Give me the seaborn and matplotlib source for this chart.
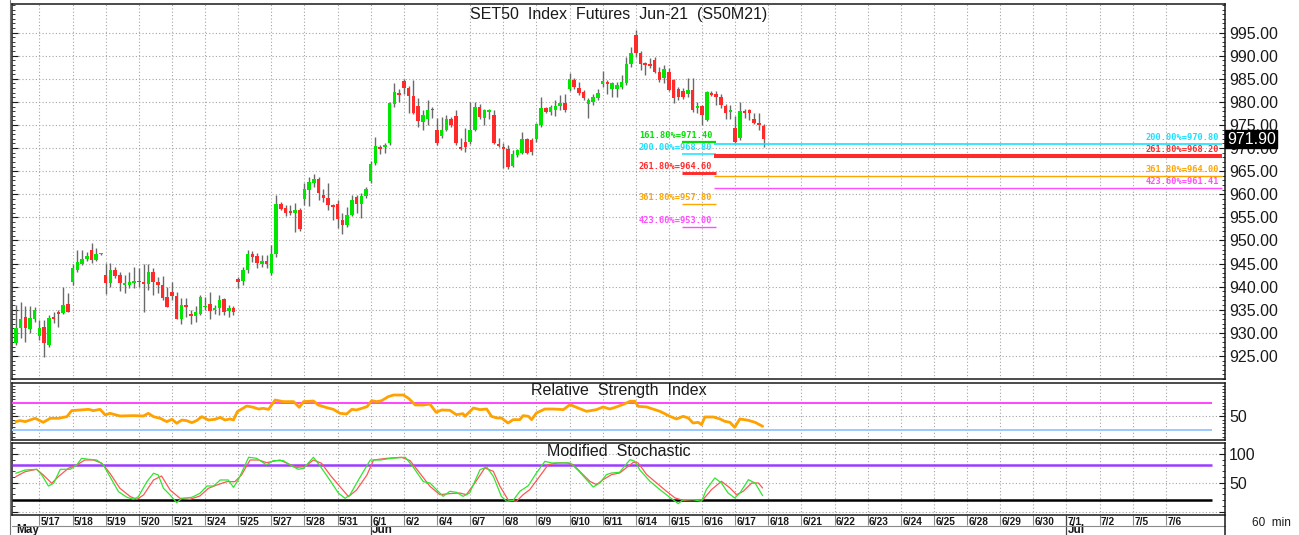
import numpy as np
import matplotlib
matplotlib.use("Agg")
import matplotlib.pyplot as plt
import matplotlib.transforms as mtransforms
from matplotlib.lines import Line2D
from matplotlib.ticker import MultipleLocator, FixedLocator
import seaborn as sns

# ---------------- data ----------------
title = "SET50  Index  Futures  Jun-21  (S50M21)"
day_labels = ["5/17", "5/18", "5/19", "5/20", "5/21", "5/24", "5/25", "5/27", "5/28", "5/31",
              "6/1", "6/2", "6/4", "6/7", "6/8", "6/9", "6/10", "6/11", "6/14", "6/15",
              "6/16", "6/17", "6/18", "6/21", "6/22", "6/23", "6/24", "6/25", "6/28", "6/29",
              "6/30", "7/1", "7/2", "7/5", "7/6"]
month_names = ["May", "Jun", "Jul"]
month_first_day = [None, "6/1", "7/1"]
bars_per_day = 7          # 60-minute bars per session
first_day_bar = 5         # bars of 5/14 shown before 5/17

opens = np.array([
    927.9, 931.0, 933.5, 930.8, 933.1, 929.3, 931.3, 927.4, 933.3, 934.3,
    934.2, 936.2, 941.1, 943.7, 945.0, 945.9, 947.9, 945.8, 947.0, 942.5,
    940.7, 943.6, 942.5, 940.3, 940.3, 940.7, 941.2, 940.9, 940.6, 943.2,
    941.1, 940.3, 937.8, 938.8, 938.0, 933.1, 936.0, 934.0, 933.7, 934.1,
    935.5, 936.2, 934.9, 935.3, 937.3, 934.8, 935.4, 941.6, 941.3, 943.7,
    947.1, 946.6, 945.0, 945.5, 943.0, 947.1, 958.0, 957.1, 956.4, 956.0,
    956.6, 958.9, 960.9, 962.5, 963.4, 959.8, 959.1, 957.7, 957.9, 954.4,
    953.3, 955.5, 959.5, 958.0, 959.6, 962.9, 966.7, 970.3, 970.2, 971.0,
    979.5, 982.0, 984.6, 983.1, 981.3, 979.1, 975.7, 976.2, 978.5, 973.9,
    972.6, 973.9, 976.4, 976.9, 970.3, 971.4, 971.4, 974.0, 978.8, 976.6,
    977.8, 977.1, 970.9, 970.3, 969.9, 966.1, 968.5, 969.0, 971.9, 971.7,
    971.9, 975.0, 978.6, 977.9, 978.2, 979.1, 979.8, 982.9, 984.7, 983.1,
    982.2, 979.5, 980.0, 980.8, 983.9, 984.4, 982.9, 982.7, 983.3, 984.1,
    988.3, 994.5, 990.6, 988.3, 988.3, 989.0, 986.5, 985.1, 986.5, 984.7,
    982.7, 982.3, 981.8, 982.6, 978.6, 979.1, 976.1, 982.0, 981.8, 981.1,
    979.1, 977.9, 974.3, 972.1, 978.1, 978.2, 976.4, 975.5, 974.8])
highs = np.array([
    936.0, 936.7, 935.8, 935.7, 935.6, 932.8, 932.8, 933.9, 934.6, 935.0,
    940.0, 938.6, 945.0, 947.9, 947.9, 947.6, 949.5, 948.3, 947.3, 945.2,
    945.2, 944.2, 943.2, 942.5, 943.2, 944.3, 944.1, 945.0, 945.0, 944.0,
    942.1, 942.3, 940.0, 941.1, 938.9, 937.5, 937.5, 934.9, 935.7, 938.2,
    937.8, 938.9, 936.0, 938.2, 937.5, 936.0, 935.7, 942.1, 944.3, 947.9,
    947.8, 947.2, 946.8, 946.8, 949.0, 959.8, 958.4, 957.7, 957.7, 958.2,
    957.0, 962.5, 963.8, 964.4, 963.7, 961.1, 962.5, 958.0, 958.7, 955.9,
    957.3, 959.8, 959.8, 960.3, 961.5, 967.2, 972.3, 970.6, 971.0, 980.0,
    984.0, 982.7, 984.9, 983.4, 984.7, 980.8, 978.2, 980.4, 978.8, 976.6,
    976.8, 977.1, 976.8, 978.2, 972.1, 974.3, 980.0, 980.0, 979.5, 978.4,
    978.4, 978.2, 972.1, 971.0, 970.6, 969.6, 969.9, 973.5, 972.1, 972.1,
    975.5, 981.1, 978.9, 979.3, 980.4, 981.5, 981.8, 986.3, 985.1, 984.4,
    982.6, 980.8, 981.7, 982.9, 986.7, 984.7, 984.4, 984.4, 985.8, 989.8,
    991.9, 995.5, 991.0, 988.7, 989.4, 989.8, 987.6, 988.0, 987.3, 985.0,
    983.3, 983.0, 985.1, 985.1, 980.0, 979.3, 982.4, 982.3, 982.4, 981.7,
    979.5, 979.3, 976.9, 980.0, 978.4, 978.4, 977.5, 977.5, 975.3])
lows = np.array([
    927.4, 928.8, 928.1, 929.9, 932.3, 928.4, 924.8, 927.0, 932.1, 931.3,
    934.0, 934.4, 940.3, 943.2, 944.7, 945.6, 945.2, 945.6, 946.8, 938.4,
    940.0, 941.8, 939.1, 938.6, 939.6, 939.6, 939.9, 934.6, 939.3, 938.2,
    938.6, 937.1, 935.5, 937.1, 932.9, 931.9, 933.5, 931.9, 932.4, 933.9,
    934.9, 933.1, 934.0, 933.9, 933.9, 933.4, 933.9, 939.6, 940.3, 942.9,
    945.4, 944.0, 944.3, 944.0, 942.5, 946.5, 956.6, 955.3, 955.5, 951.9,
    952.1, 957.7, 957.4, 961.6, 958.7, 958.4, 956.6, 954.4, 952.6, 951.4,
    953.0, 955.3, 955.9, 954.8, 959.1, 962.5, 966.3, 968.7, 969.0, 970.6,
    979.0, 980.0, 981.8, 977.6, 977.4, 974.6, 973.9, 975.0, 976.6, 970.6,
    972.1, 973.7, 974.6, 970.6, 969.6, 969.2, 970.9, 973.7, 976.2, 975.0,
    976.2, 970.9, 970.2, 965.6, 965.4, 965.8, 968.1, 968.7, 968.7, 968.5,
    971.4, 974.6, 977.5, 977.1, 976.9, 978.2, 977.9, 982.4, 982.9, 981.5,
    980.4, 976.6, 979.3, 980.4, 983.3, 981.8, 981.1, 981.1, 982.9, 983.6,
    987.6, 989.8, 986.9, 985.8, 987.3, 986.2, 984.4, 984.0, 982.4, 979.7,
    980.4, 980.6, 981.1, 977.9, 977.5, 975.0, 975.8, 981.3, 979.3, 978.6,
    976.4, 976.4, 971.0, 971.7, 976.6, 976.1, 975.3, 973.9, 970.3])
closes = np.array([
    931.1, 932.9, 931.0, 933.3, 934.9, 931.1, 927.7, 933.3, 933.0, 934.1,
    936.0, 934.6, 944.0, 945.3, 945.9, 946.6, 945.8, 947.1, 947.1, 940.7,
    943.7, 942.4, 940.7, 940.7, 940.9, 941.2, 940.9, 940.5, 943.2, 941.1,
    940.3, 937.5, 935.6, 938.0, 933.1, 936.0, 935.6, 933.7, 934.4, 937.8,
    935.9, 934.8, 935.3, 937.1, 934.6, 935.4, 934.4, 941.1, 943.7, 947.1,
    946.5, 945.2, 945.5, 944.8, 947.1, 958.0, 956.9, 956.0, 956.0, 956.6,
    952.4, 961.1, 962.7, 963.4, 960.2, 959.1, 957.7, 957.3, 954.6, 953.3,
    955.5, 958.7, 958.0, 959.6, 961.1, 966.5, 970.4, 969.9, 970.6, 979.7,
    982.1, 981.6, 983.1, 981.3, 977.5, 975.9, 977.1, 978.2, 978.2, 971.2,
    974.0, 976.4, 975.0, 971.0, 969.9, 970.3, 974.0, 978.8, 976.8, 978.2,
    978.2, 971.0, 970.4, 969.7, 966.0, 968.7, 969.5, 971.9, 969.0, 969.2,
    975.2, 978.6, 977.9, 978.9, 979.1, 979.8, 978.2, 984.9, 983.3, 982.0,
    980.8, 980.4, 981.1, 982.0, 984.6, 983.9, 984.0, 983.6, 984.4, 988.3,
    990.5, 990.5, 988.3, 988.0, 987.7, 986.5, 984.7, 987.2, 982.6, 980.8,
    981.1, 981.0, 982.6, 978.2, 979.1, 977.1, 982.2, 981.5, 981.1, 979.3,
    977.5, 978.1, 971.4, 978.1, 977.5, 977.5, 975.5, 975.0, 971.9])

price_ticks = [925, 930, 935, 940, 945, 950, 955, 960, 965, 970, 975, 980, 985, 990, 995]

# Fibonacci projections
fib_left_pct = ["161.80%", "200.00%", "261.80%", "361.80%", "423.60%"]
fib_left_val = [971.40, 968.80, 964.60, 957.80, 953.00]
fib_right_pct = ["200.00%", "261.80%", "361.80%", "423.60%"]
fib_right_val = [970.80, 968.20, 964.00, 961.41]

# Relative Strength Index (bar position, value)
rsi_bar = [0.0, 0.9, 2.0, 4.1, 5.8, 7.3, 9.0, 10.8, 11.8, 13.6,
           15.4, 16.4, 17.8, 18.9, 19.9, 22.0, 24.9, 27.0, 28.0, 29.1,
           30.5, 31.9, 33.0, 34.0, 35.1, 36.1, 37.2, 38.2, 39.3, 40.7,
           42.1, 43.2, 44.2, 45.3, 46.0, 46.8, 48.8, 50.2, 51.3, 52.3,
           53.4, 54.8, 56.5, 58.7, 59.9, 60.8, 62.9, 63.9, 65.7, 67.1,
           68.5, 69.9, 71.0, 72.0, 73.1, 74.2, 75.2, 76.3, 77.3, 78.7,
           79.8, 81.9, 83.0, 84.4, 86.1, 87.5, 88.8, 90.0, 91.7, 93.1,
           94.5, 94.9, 96.7, 98.1, 99.5, 100.5, 101.6, 102.6, 104.0, 105.1,
           106.5, 107.2, 108.3, 109.0, 110.0, 111.8, 113.6, 115.7, 117.1, 118.8,
           120.6, 122.7, 124.1, 125.5, 126.9, 128.7, 129.8, 130.8, 131.5, 133.3,
           135.0, 136.1, 137.1, 138.2, 139.6, 141.0, 142.1, 143.1, 144.2, 144.9,
           145.6, 147.4, 148.8, 149.8, 150.9, 151.9, 153.0, 154.8, 156.2, 157.8]
rsi_val = [42.2, 43.7, 42.2, 47.1, 41.2, 47.1, 47.1, 49.5, 58.3, 59.3,
           60.2, 58.3, 60.2, 52.0, 54.4, 50.5, 51.0, 50.5, 54.4, 49.5,
           47.1, 42.2, 45.6, 39.8, 44.6, 43.7, 40.7, 43.7, 49.5, 44.6,
           45.6, 48.5, 44.6, 46.1, 44.6, 56.8, 65.1, 63.2, 60.7, 61.7,
           60.2, 73.9, 71.5, 71.5, 63.2, 71.5, 72.4, 66.6, 62.7, 60.2,
           54.4, 53.4, 60.2, 59.3, 61.7, 64.1, 72.9, 71.5, 72.9, 78.8,
           81.2, 81.2, 76.3, 66.6, 66.6, 68.0, 55.9, 59.3, 58.8, 52.4,
           53.9, 50.0, 62.2, 59.8, 60.7, 50.0, 47.6, 47.6, 40.2, 45.1,
           45.1, 51.0, 50.0, 45.1, 54.9, 60.7, 60.7, 59.8, 67.1, 62.2,
           57.3, 59.8, 63.7, 60.7, 63.7, 68.5, 72.0, 72.0, 64.6, 63.7,
           59.8, 57.3, 53.9, 50.0, 46.1, 50.0, 47.6, 40.2, 41.2, 37.8,
           49.0, 49.0, 46.1, 42.7, 41.2, 33.9, 46.1, 44.1, 41.2, 35.4]
rsi_upper, rsi_lower = 70, 30

# Modified Stochastic: %K (green) and %D (red)
stk_bar = [0.0, 2.0, 4.4, 5.5, 6.9, 8.0, 9.4, 11.5, 12.9, 13.9,
           15.4, 17.1, 18.5, 19.9, 21.7, 23.5, 24.9, 25.9, 27.7, 29.1,
           30.1, 31.2, 32.6, 34.0, 35.1, 37.2, 38.9, 40.4, 41.8, 43.2,
           44.9, 46.0, 47.0, 49.2, 50.9, 53.0, 54.4, 56.5, 58.3, 59.7,
           60.8, 62.9, 64.3, 66.1, 68.2, 69.6, 70.6, 72.4, 74.9, 77.0,
           79.4, 82.3, 84.0, 86.1, 87.5, 90.3, 91.7, 93.1, 94.5, 95.9,
           98.1, 99.5, 100.9, 102.6, 103.7, 105.1, 106.5, 108.3, 110.0, 111.8,
           113.2, 115.0, 117.1, 118.8, 120.6, 122.0, 123.4, 124.8, 125.9, 127.6,
           128.3, 129.8, 130.8, 131.9, 134.0, 136.1, 137.9, 140.0, 141.0, 143.1,
           144.9, 145.9, 147.7, 149.1, 150.5, 151.9, 153.0, 154.8, 156.2, 157.8]
stk_val = [66.2, 71.9, 73.1, 63.3, 44.2, 48.9, 73.1, 73.1, 80.6, 92.1,
           90.4, 89.2, 80.6, 60.4, 34.4, 24.6, 21.2, 25.8, 51.7, 66.2,
           63.3, 40.2, 28.7, 15.4, 22.9, 24.6, 31.5, 44.2, 44.2, 54.6,
           54.6, 41.9, 54.6, 93.9, 92.1, 80.6, 88.1, 88.1, 78.9, 73.1,
           74.8, 93.9, 78.9, 57.5, 31.5, 22.9, 28.7, 54.6, 89.2, 89.2,
           92.1, 93.9, 76.5, 51.7, 49.4, 26.3, 35.0, 33.3, 26.3, 32.1,
           72.5, 77.1, 61.0, 26.3, 17.7, 19.4, 35.0, 44.8, 66.7, 86.9,
           84.1, 84.1, 84.1, 71.4, 55.2, 42.5, 49.4, 63.9, 66.7, 67.9,
           75.4, 89.8, 86.9, 71.4, 52.3, 37.9, 26.3, 13.7, 20.6, 20.6,
           17.7, 37.9, 58.1, 49.4, 32.1, 23.5, 32.1, 55.2, 49.4, 27.5]
std_bar = [0.0, 2.0, 4.4, 5.8, 7.6, 9.0, 11.1, 12.9, 14.6, 16.4,
           18.2, 19.9, 22.0, 24.2, 25.6, 27.0, 29.1, 30.8, 32.6, 34.7,
           36.8, 38.9, 40.7, 42.5, 44.6, 46.3, 47.7, 49.5, 51.3, 53.0,
           55.8, 57.3, 59.4, 61.1, 62.9, 64.6, 66.4, 68.5, 70.3, 72.0,
           74.2, 75.6, 78.4, 81.5, 83.3, 85.4, 87.5, 89.6, 91.7, 93.8,
           95.2, 97.0, 99.1, 100.9, 102.3, 104.0, 105.8, 107.2, 108.6, 110.7,
           112.5, 114.6, 116.4, 117.8, 119.5, 121.3, 122.7, 124.1, 125.9, 127.6,
           129.4, 130.5, 131.5, 133.3, 135.4, 137.5, 139.3, 141.0, 143.1, 145.2,
           147.0, 149.1, 150.9, 152.3, 153.7, 155.5, 156.9, 157.8]
std_val = [60.4, 69.0, 73.1, 63.3, 48.9, 60.4, 74.8, 80.6, 89.2, 89.2,
           83.5, 66.2, 40.2, 25.8, 21.2, 28.7, 54.6, 61.5, 37.3, 22.9,
           21.2, 26.9, 40.2, 46.0, 51.7, 51.7, 63.3, 89.2, 89.2, 84.6,
           89.2, 83.5, 76.5, 77.7, 89.2, 83.5, 63.3, 43.1, 25.8, 37.3,
           63.3, 89.2, 92.1, 93.9, 88.1, 66.2, 43.7, 29.2, 31.0, 32.1,
           29.2, 49.4, 75.4, 69.6, 43.7, 20.6, 17.7, 29.2, 37.9, 61.0,
           81.2, 84.1, 84.1, 81.2, 66.7, 52.3, 46.5, 55.2, 63.9, 66.7,
           78.3, 85.2, 84.1, 63.9, 49.4, 35.0, 23.5, 19.4, 20.6, 20.6,
           37.9, 52.3, 40.8, 29.2, 35.0, 49.4, 49.4, 40.8]
stoch_upper, stoch_lower = 80, 20

# ---------------- style ----------------
sns.set_theme(style="white")
plt.rcParams["font.family"] = ["Liberation Sans", "DejaVu Sans"]
plt.rcParams["axes.unicode_minus"] = False

W, H = 1299, 535
fig = plt.figure(figsize=(W / 100, H / 100), dpi=100, facecolor="white")


def px_rect(x0, y0, x1, y1):
    return [x0 / W, 1 - y1 / H, (x1 - x0) / W, (y1 - y0) / H]


ax_p = fig.add_axes(px_rect(12, 4, 1225, 379))
ax_r = fig.add_axes(px_rect(12, 383, 1225, 440))
ax_s = fig.add_axes(px_rect(12, 443, 1225, 515))

n = len(opens)
bar_x = np.arange(n)
day_pos = first_day_bar + bars_per_day * np.arange(len(day_labels))
XLIM = (-0.8, 255.5)
LEVEL_END = 252.8
grid_kw = dict(color="#a4a4a4", linestyle=(0, (1, 2)), linewidth=0.8)
INK = "#1a1a1a"

for ax in (ax_p, ax_r, ax_s):
    ax.set_xlim(*XLIM)
    ax.set_facecolor("white")
    ax.xaxis.set_major_locator(FixedLocator(day_pos))
    ax.grid(True, axis="both", which="major", **grid_kw)
    ax.set_axisbelow(True)
    for s in ax.spines.values():
        s.set_color(INK)
        s.set_linewidth(1.1)
    ax.yaxis.tick_right()
    ax.tick_params(axis="y", which="both", direction="in", left=True, right=True,
                   labelleft=False, labelright=True, labelsize=11.5, pad=3,
                   colors=INK)
    ax.tick_params(axis="y", which="major", length=4, width=0.8)
    ax.tick_params(axis="y", which="minor", length=2.5, width=0.6)
    ax.tick_params(axis="x", which="both", bottom=False, top=False, labelbottom=False)

# ---------------- price panel ----------------
ax_p.set_ylim(920.0, 1001.2)
ax_p.set_yticks(price_ticks)
ax_p.set_yticklabels([f"{v:.2f}" for v in price_ticks])
ax_p.yaxis.set_minor_locator(MultipleLocator(1))

up = closes >= opens
ax_p.vlines(bar_x, lows, highs, color="#6a6a6a", linewidth=1.0, zorder=3)
body_lo = np.minimum(opens, closes)
body_h = np.maximum(np.abs(closes - opens), 0.35)
ax_p.bar(bar_x, body_h, bottom=body_lo, width=0.74,
         color=np.where(up, "#00e600", "#ff2a2a"), linewidth=0, zorder=4)

fib_left_colors = ["#00e000", "#19e0ff", "#ff2a2a", "#ffa500", "#ff4dff"]
fib_left_lw = [1.6, 1.1, 2.1, 1.0, 1.0]
for pct, val, c, lw in zip(fib_left_pct, fib_left_val, fib_left_colors, fib_left_lw):
    ax_p.hlines(val, 140.7, 148.0, color=c, linewidth=lw, zorder=5)
    ax_p.annotate(f"{pct}={val:.2f}", xy=(147.2, val), xytext=(0, 1.5),
                  textcoords="offset points", ha="right", va="bottom", color=c,
                  fontsize=6.2, fontweight="bold", family="DejaVu Sans Mono", zorder=6)

fib_right_colors = ["#19e0ff", "#ff2a2a", "#ffa500", "#ff4dff"]
fib_right_lw = [1.2, 2.9, 1.0, 1.0]
for pct, val, c, lw in zip(fib_right_pct, fib_right_val, fib_right_colors, fib_right_lw):
    ax_p.hlines(val, 147.6, 254.9, color=c, linewidth=lw, zorder=5)
    ax_p.annotate(f"{pct}={val:.2f}", xy=(254.2, val), xytext=(0, 1.5),
                  textcoords="offset points", ha="right", va="bottom", color=c,
                  fontsize=6.2, fontweight="bold", family="DejaVu Sans Mono", zorder=6)

# last-price marker box on the right axis (covers the 970.00 tick label as in the reference)
trp = mtransforms.blended_transform_factory(ax_p.transAxes, ax_p.transData)
ax_p.text(1.0015, closes[-1], f"{closes[-1]:.2f}", transform=trp, ha="left",
          va="center", color="white", fontsize=11.5,
          bbox=dict(boxstyle="square,pad=0.1", facecolor="black", edgecolor="black"),
          zorder=10, clip_on=False)

# ---------------- RSI panel ----------------
ax_r.set_ylim(15.3, 98.8)
ax_r.set_yticks([50])
ax_r.set_yticklabels(["50"])
ax_r.yaxis.set_minor_locator(MultipleLocator(5))
ax_r.hlines(rsi_upper, XLIM[0], LEVEL_END, color="#ff44ff", linewidth=1.4, zorder=3)
ax_r.hlines(rsi_lower, XLIM[0], LEVEL_END, color="#9ccaff", linewidth=1.4, zorder=3)
sns.lineplot(x=rsi_bar, y=rsi_val, ax=ax_r, color="#ffa200", linewidth=2.0,
             estimator=None, sort=False, zorder=4)

# ---------------- Stochastic panel ----------------
ax_s.set_ylim(-6, 118.6)
ax_s.set_yticks([0, 50, 100])
ax_s.set_yticklabels(["", "50", "100"])
ax_s.yaxis.set_minor_locator(MultipleLocator(10))
ax_s.hlines(stoch_upper, XLIM[0], LEVEL_END, color="#9b3cff", linewidth=1.8, zorder=3)
ax_s.hlines(stoch_lower, XLIM[0], LEVEL_END, color="black", linewidth=1.8, zorder=3)
sns.lineplot(x=std_bar, y=std_val, ax=ax_s, color="#ff5555", linewidth=0.9,
             estimator=None, sort=False, zorder=4)
sns.lineplot(x=stk_bar, y=stk_val, ax=ax_s, color="#2fe62f", linewidth=0.9,
             estimator=None, sort=False, zorder=5)

for ax in (ax_p, ax_r, ax_s):
    ax.set_xlabel("")
    ax.set_ylabel("")

# ---------------- x axis (dates / months) ----------------
ax_s.tick_params(axis="x", which="major", bottom=True, direction="out", length=7,
                 width=0.8, color="#8a8a8a")
trs = mtransforms.blended_transform_factory(ax_s.transData, ax_s.transAxes)
for p, lab in zip(day_pos, day_labels):
    ax_s.text(p + 0.3, -0.095, lab, transform=trs, ha="left", va="center",
              fontsize=7.3, fontweight="bold", color=INK, clip_on=False)

trf = mtransforms.blended_transform_factory(ax_s.transData, fig.transFigure)
for name, first in zip(month_names, month_first_day):
    p = 0 if first is None else day_pos[day_labels.index(first)]
    ax_s.text(p + 0.2, -0.215, name, transform=trs, ha="left", va="center",
              fontsize=8.5, fontweight="bold", color=INK, clip_on=False)
    if first is not None:
        fig.add_artist(Line2D([p, p], [0, 1 - 515 / H], transform=trf,
                              color="#444444", linewidth=0.9))

fig.add_artist(Line2D([12 / W, 1225 / W], [1 - 525.5 / H] * 2,
                      transform=fig.transFigure, color="#8a8a8a", linewidth=0.8))
fig.add_artist(Line2D([1225 / W] * 2, [0, 1 - 515 / H],
                      transform=fig.transFigure, color=INK, linewidth=1.1))
fig.add_artist(Line2D([9.5 / W] * 2, [0, 1],
                      transform=fig.transFigure, color="#777777", linewidth=0.8))

# ---------------- titles / captions ----------------
cx = (12 + 1225) / 2 / W
fig.text(cx, 1 - 14 / H, title, ha="center", va="center", fontsize=11.5, color=INK)
fig.text(cx, 1 - 391 / H, "Relative  Strength  Index", ha="center", va="center",
         fontsize=11.5, color=INK)
fig.text(cx, 1 - 452 / H, "Modified  Stochastic", ha="center", va="center",
         fontsize=11.5, color=INK)
fig.text(1252 / W, 1 - 523 / H, "60  min", ha="left", va="center", fontsize=8.5,
         color=INK)

fig.savefig("out.png", dpi=100, facecolor="white")
